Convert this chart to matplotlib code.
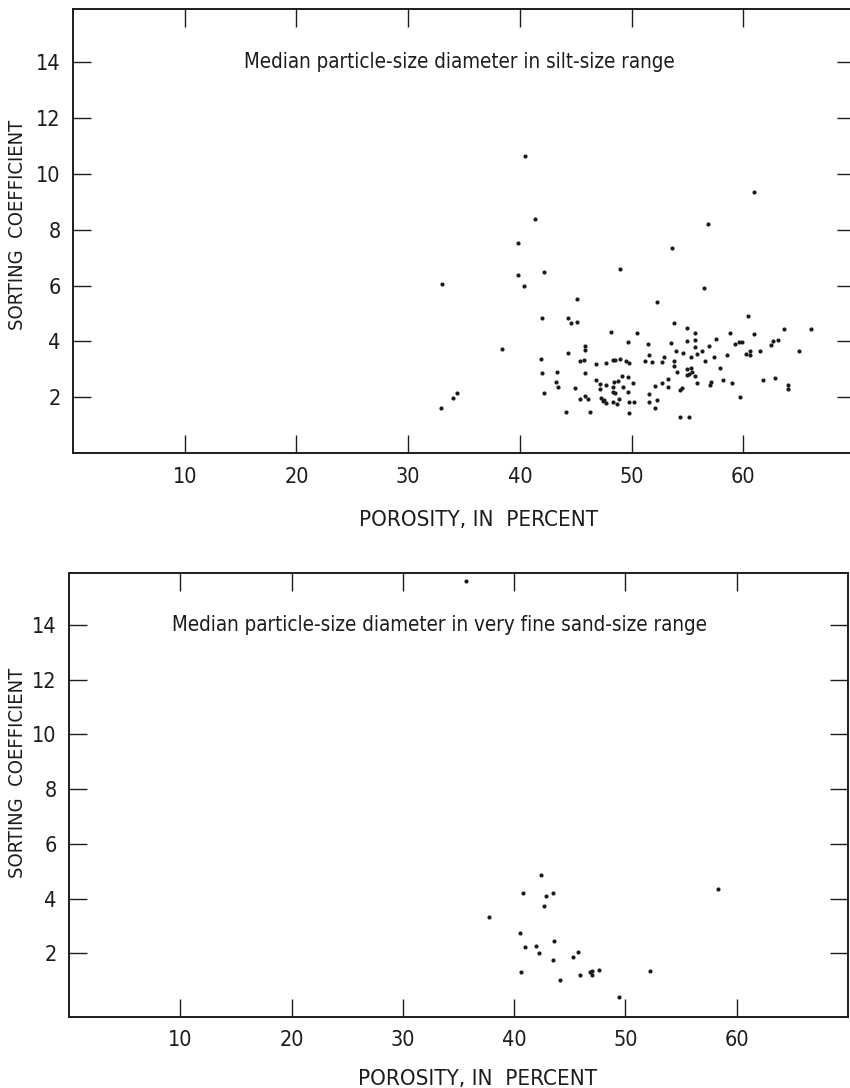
import matplotlib
matplotlib.use("Agg")
import matplotlib.pyplot as plt
from matplotlib import font_manager as fm

# Pick the narrowest sans face that is installed
_faces = fm.fontManager.ttflist
_names = {f.name for f in _faces}
if "Liberation Sans Narrow" in _names:
    plt.rcParams['font.family'] = ['Liberation Sans Narrow', 'DejaVu Sans']
elif any(f.name == "DejaVu Sans" and f.stretch == "condensed" for f in _faces):
    plt.rcParams['font.family'] = ['DejaVu Sans']
    plt.rcParams['font.stretch'] = 'condensed'
else:
    plt.rcParams['font.family'] = ['Liberation Sans', 'DejaVu Sans']

# Silt-size range: porosity (percent) and sorting coefficient
silt_porosity = [
    40.5, 41.4, 39.8, 53.6, 39.8, 42.2, 49.0, 40.4, 33.0, 45.1, 52.3, 53.8,
    42.0, 44.3, 44.6, 45.1, 55.0, 55.7, 48.2, 50.5, 55.0, 55.7, 49.7, 51.5,
    53.5, 55.7, 45.8, 45.8, 38.4, 54.0, 54.6, 55.9, 44.3, 51.6, 52.9, 55.3,
    41.9, 49.0, 48.5, 48.3, 49.5, 49.8, 45.4, 45.7, 51.2, 51.8, 52.7, 46.8,
    47.7, 53.8, 53.8, 55.0, 55.3, 55.1, 55.4, 55.0, 55.7, 54.1, 42.0, 43.3,
    45.8, 49.1, 49.7, 46.8, 48.8, 48.4, 53.3, 50.1, 52.7, 55.9, 43.2, 43.4,
    47.2, 47.7, 48.3, 49.2, 53.3, 52.1, 47.2, 48.3, 48.5, 49.7, 51.6, 54.3,
    54.5, 44.9, 42.2, 45.8, 45.4, 46.1, 47.3, 47.5, 47.7, 47.4, 48.3, 48.7,
    48.9, 49.8, 50.2, 51.6, 52.3, 52.1, 49.8, 46.3, 44.1, 54.3, 55.1, 34.4,
    34.0, 32.9,
    56.8, 56.5, 56.3, 56.6, 56.9, 57.1, 57.4, 57.6, 57.9, 58.2, 58.5, 58.8,
    59.0, 59.3, 57.0,
    60.4, 61.0, 59.9, 63.6, 66.1, 62.7, 63.1, 62.5, 65.0, 61.5, 60.6, 60.6,
    60.2, 61.8, 62.8, 64.0, 64.0, 59.7, 61.0, 59.6,
]
silt_sorting = [
    10.65, 8.38, 7.54, 7.36, 6.37, 6.50, 6.59, 6.00, 6.04, 5.53, 5.40, 4.67,
    4.84, 4.82, 4.67, 4.69, 4.48, 4.29, 4.35, 4.29, 4.00, 4.05, 3.98, 3.89,
    3.93, 3.81, 3.85, 3.69, 3.72, 3.67, 3.58, 3.55, 3.58, 3.52, 3.43, 3.43,
    3.37, 3.38, 3.34, 3.34, 3.31, 3.22, 3.31, 3.32, 3.31, 3.27, 3.27, 3.19,
    3.22, 3.13, 3.31, 3.01, 3.04, 2.83, 2.92, 2.80, 2.77, 2.92, 2.86, 2.90,
    2.88, 2.77, 2.71, 2.62, 2.58, 2.56, 2.64, 2.50, 2.50, 2.50, 2.55, 2.36,
    2.47, 2.43, 2.38, 2.38, 2.38, 2.41, 2.30, 2.20, 2.16, 2.18, 2.12, 2.24,
    2.32, 2.32, 2.14, 2.04, 1.93, 1.94, 1.96, 1.90, 1.80, 1.87, 1.84, 1.76,
    1.94, 1.82, 1.84, 1.84, 1.90, 1.60, 1.45, 1.48, 1.46, 1.30, 1.30, 2.14,
    1.97, 1.62,
    8.20, 5.90, 3.65, 3.30, 3.85, 2.55, 3.45, 4.10, 3.05, 2.60, 3.50, 4.30,
    2.50, 3.90, 2.45,
    4.90, 4.27, 3.96, 4.44, 4.44, 4.03, 4.05, 3.87, 3.66, 3.66, 3.66, 3.51,
    3.55, 2.62, 2.70, 2.44, 2.30, 2.02, 9.35, 3.96,
]

# Very fine sand-size range
sand_porosity = [
    35.7, 42.4, 40.8, 42.9, 43.5, 42.7, 37.7, 40.5, 41.0, 42.0, 42.2, 43.6,
    43.5, 45.7, 45.3, 40.6, 44.1, 45.9, 46.8, 47.0, 47.0, 47.6, 52.2, 49.4,
    58.3,
]
sand_sorting = [
    15.6, 4.86, 4.20, 4.11, 4.21, 3.74, 3.33, 2.75, 2.23, 2.29, 2.01, 2.44,
    1.75, 2.06, 1.88, 1.32, 1.03, 1.22, 1.32, 1.36, 1.20, 1.40, 1.36, 0.40,
    4.35,
]

x_ticks = [10, 20, 30, 40, 50, 60]
y_ticks = [2, 4, 6, 8, 10, 12, 14]

panels = [
    dict(rect=[73 / 850, 1 - 453 / 1088, 782 / 850, 443.7 / 1088],
         x=silt_porosity, y=silt_sorting, ylim=(0, 15.9),
         ylab=(-0.059, 0.514), xlab=(0.518, -0.128),
         title="Median particle-size diameter in silt-size range", tx=15.3),
    dict(rect=[69 / 850, 1 - 1016.5 / 1088, 779 / 850, 443.8 / 1088],
         x=sand_porosity, y=sand_sorting, ylim=(-0.3, 15.9),
         ylab=(-0.054, 0.549), xlab=(0.524, -0.118),
         title="Median particle-size diameter in very fine sand-size range", tx=9.3),
]

ink = "#1c1c1c"
fig = plt.figure(figsize=(8.5, 10.88), dpi=100)

for p in panels:
    ax = fig.add_axes(p["rect"])
    ax.scatter(p["x"], p["y"], s=9, color=ink, linewidths=0, zorder=3)
    ax.set_xlim(0, 70)
    ax.set_ylim(*p["ylim"])
    ax.set_xticks(x_ticks)
    ax.set_yticks(y_ticks)
    ax.tick_params(axis="both", which="major", direction="in", length=13,
                   width=1.0, color=ink, labelsize=15.5, labelcolor=ink)
    ax.tick_params(axis="x", top=True, pad=10)
    ax.tick_params(axis="y", right=True, pad=9)
    for side in ["left", "top", "bottom", "right"]:
        ax.spines[side].set_linewidth(1.4)
        ax.spines[side].set_color(ink)
    ax.text(p["tx"], 14, p["title"], ha="left", va="center",
            fontsize=14.8, color=ink)
    ax.set_xlabel("POROSITY, IN  PERCENT", fontsize=16, color=ink)
    ax.xaxis.set_label_coords(*p["xlab"])
    ax.set_ylabel("SORTING  COEFFICIENT", fontsize=14.5, color=ink)
    ax.yaxis.set_label_coords(*p["ylab"])

fig.savefig("out.png", dpi=100)
